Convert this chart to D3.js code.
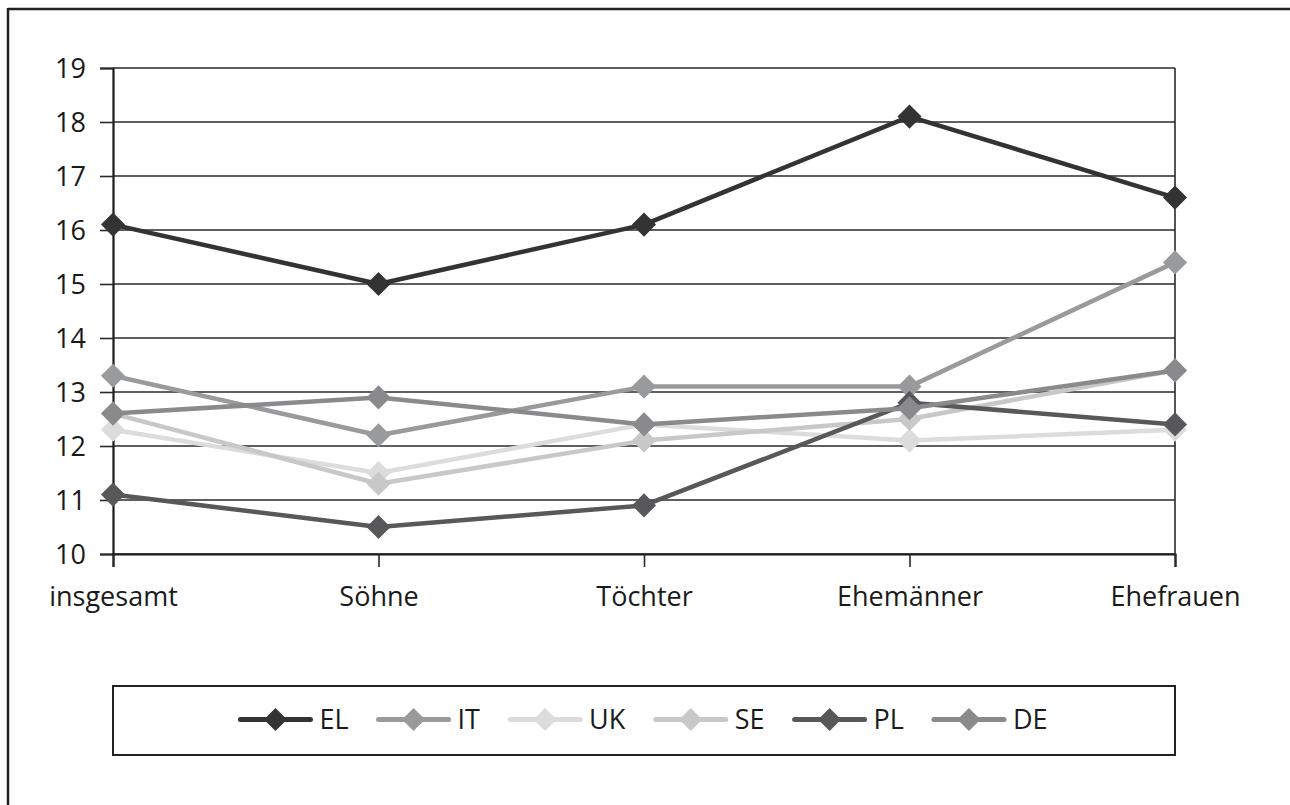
<!DOCTYPE html>
<html>
<head>
<meta charset="utf-8">
<script src="https://cdn.jsdelivr.net/npm/d3@7"></script>
<style>
  html, body { margin: 0; padding: 0; background: #fff; }
  svg { display: block; }
  text { font-family: "Open Sans", "Noto Sans", sans-serif; fill: #1a1a1a; }
</style>
</head>
<body>
<svg id="chart" width="1290" height="805"></svg>
<script>
// ---- data ----
const categories = ["insgesamt", "Söhne", "Töchter", "Ehemänner", "Ehefrauen"];
const seriesNames = ["EL", "IT", "UK", "SE", "PL", "DE"];
const EL = [16.1, 15.0, 16.1, 18.1, 16.6];
const IT = [13.3, 12.2, 13.1, 13.1, 15.4];
const UK = [12.3, 11.5, 12.4, 12.1, 12.3];
const SE = [12.6, 11.3, 12.1, 12.5, 13.4];
const PL = [11.1, 10.5, 10.9, 12.8, 12.4];
const DE = [12.6, 12.9, 12.4, 12.7, 13.4];
const yTicks = [10, 11, 12, 13, 14, 15, 16, 17, 18, 19];
const seriesColors = ["#333333", "#999a9c", "#dcdcdc", "#c8c8c8", "#58585a", "#8a8a8c"];

const seriesValues = [EL, IT, UK, SE, PL, DE];
const series = seriesNames.map((n, i) => ({ name: n, values: seriesValues[i], color: seriesColors[i] }));

// ---- layout ----
const svg = d3.select("#chart");
const plot = { left: 113, right: 1175, top: 68, bottom: 554 };

const x = d3.scalePoint().domain(categories).range([plot.left, plot.right]).padding(0);
const y = d3.scaleLinear().domain([10, 19]).range([plot.bottom, plot.top]);

// outer frame (top + left only, cropped figure)
svg.append("line").attr("x1", 8).attr("x2", 1290).attr("y1", 9).attr("y2", 9)
  .attr("stroke", "#222").attr("stroke-width", 2.5);
svg.append("line").attr("x1", 8).attr("x2", 8).attr("y1", 8).attr("y2", 805)
  .attr("stroke", "#222").attr("stroke-width", 2.5);

// gridlines
svg.append("g").selectAll("line").data(yTicks).join("line")
  .attr("x1", plot.left).attr("x2", plot.right)
  .attr("y1", d => y(d)).attr("y2", d => y(d))
  .attr("stroke", "#2a2a2a").attr("stroke-width", 1.6);

// right plot border
svg.append("line").attr("x1", plot.right).attr("x2", plot.right)
  .attr("y1", plot.top).attr("y2", plot.bottom)
  .attr("stroke", "#2a2a2a").attr("stroke-width", 1.6);

// y axis
const yAxis = d3.axisLeft(y).tickValues(yTicks).tickSize(13).tickPadding(14).tickFormat(d3.format("d"));
const gy = svg.append("g").attr("transform", `translate(${plot.left},0)`).call(yAxis);
gy.select(".domain").attr("stroke", "#1a1a1a").attr("stroke-width", 2.2);
gy.selectAll(".tick line").attr("stroke", "#2a2a2a").attr("stroke-width", 1.6);
gy.selectAll(".tick text").attr("font-size", 27).attr("dy", "0.36em")
  .style("font-family", '"Open Sans", sans-serif').attr("fill", "#1a1a1a");

// x axis
const xAxis = d3.axisBottom(x).tickSize(13).tickPadding(20);
const gx = svg.append("g").attr("transform", `translate(0,${plot.bottom})`).call(xAxis);
gx.select(".domain").attr("stroke", "#1a1a1a").attr("stroke-width", 2.2);
gx.selectAll(".tick line").attr("stroke", "#2a2a2a").attr("stroke-width", 1.6);
gx.selectAll(".tick text").attr("font-size", 27)
  .style("font-family", '"Open Sans", sans-serif').attr("fill", "#1a1a1a");

// series
const line = d3.line().x((d, i) => x(categories[i])).y(d => y(d));
const diamond = d3.symbol().type(d3.symbolDiamond2).size(370);

series.forEach(s => {
  const g = svg.append("g");
  g.append("path").datum(s.values).attr("d", line)
    .attr("fill", "none").attr("stroke", s.color).attr("stroke-width", 4.5)
    .attr("stroke-linejoin", "round");
  g.selectAll("path.m").data(s.values).join("path").attr("class", "m")
    .attr("d", diamond)
    .attr("transform", (d, i) => `translate(${x(categories[i])},${y(d)})`)
    .attr("fill", s.color);
});

// legend
const legBox = { left: 113, right: 1175, top: 686, bottom: 755 };
svg.append("rect").attr("x", legBox.left).attr("y", legBox.top)
  .attr("width", legBox.right - legBox.left).attr("height", legBox.bottom - legBox.top)
  .attr("fill", "#fff").attr("stroke", "#222").attr("stroke-width", 2);

const legY = (legBox.top + legBox.bottom) / 2 - 1;
const lineLen = 70, textGap = 9, itemGap = 30;
const lg = svg.append("g");
const items = lg.selectAll("g").data(series).join("g");
items.append("line").attr("x1", 0).attr("x2", lineLen).attr("y1", 0).attr("y2", 0)
  .attr("stroke", d => d.color).attr("stroke-width", 5).attr("stroke-linecap", "round");
items.append("path").attr("d", d3.symbol().type(d3.symbolDiamond2).size(340))
  .attr("transform", `translate(${lineLen / 2},0)`).attr("fill", d => d.color);
items.append("text").attr("x", lineLen + textGap).attr("y", 0).attr("dy", "0.36em")
  .attr("font-size", 27).text(d => d.name);

let widths = [];
items.each(function () { widths.push(this.getBBox().width); });
const total = d3.sum(widths) + itemGap * (widths.length - 1);
let cx = (legBox.left + legBox.right) / 2 - total / 2;
items.attr("transform", (d, i) => {
  const t = `translate(${cx},${legY})`;
  cx += widths[i] + itemGap;
  return t;
});
</script>
</body>
</html>
